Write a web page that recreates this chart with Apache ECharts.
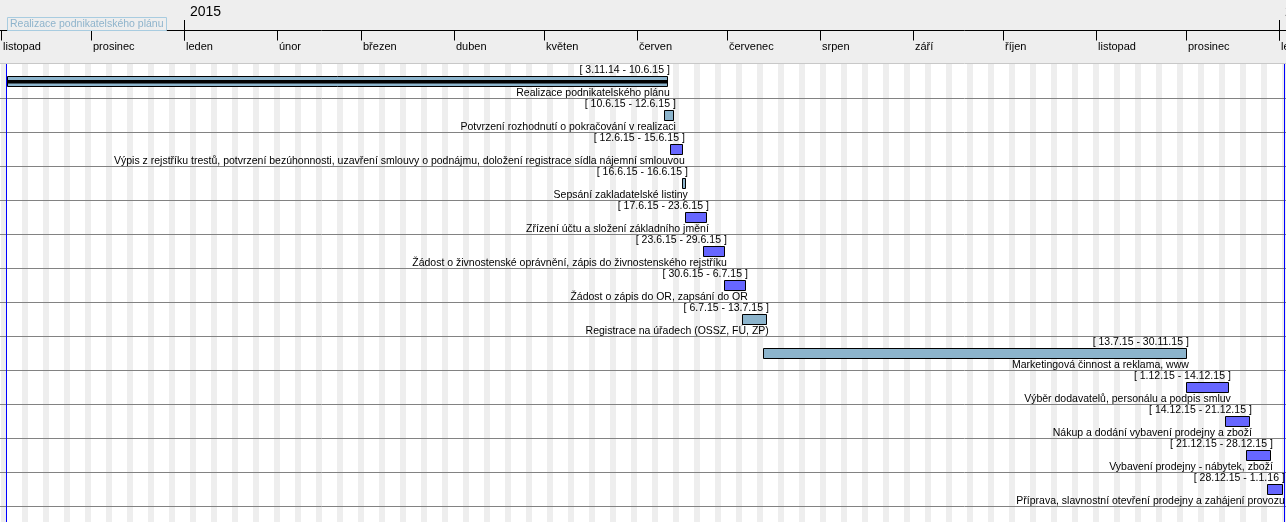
<!DOCTYPE html>
<html>
<head>
<meta charset="utf-8">
<script src="https://cdn.jsdelivr.net/npm/echarts@6/dist/echarts.min.js"></script>
<style>
  html, body { margin: 0; padding: 0; background: #fff; }
  #chart { width: 1286px; height: 522px; }
</style>
</head>
<body>
<div id="chart"></div>
<script>
// Gantt — project timeline (Czech labels)
var taskNames = [
  'Realizace podnikatelského plánu',
  'Potvrzení rozhodnutí o pokračování v realizaci',
  'Výpis z rejstříku trestů, potvrzení bezúhonnosti, uzavření smlouvy o podnájmu, doložení registrace sídla nájemní smlouvou',
  'Sepsání zakladatelské listiny',
  'Zřízení účtu a složení základního jmění',
  'Žádost o živnostenské oprávnění, zápis do živnostenského rejstříku',
  'Žádost o zápis do OR, zapsání do OR',
  'Registrace na úřadech (OSSZ, FÚ, ZP)',
  'Marketingová činnost a reklama, www',
  'Výběr dodavatelů, personálu a podpis smluv',
  'Nákup a dodání vybavení prodejny a zboží',
  'Vybavení prodejny - nábytek, zboží',
  'Příprava, slavnostní otevření prodejny a zahájení provozu'
];
var taskStarts = ['2014-11-03', '2015-06-10', '2015-06-12', '2015-06-16', '2015-06-17', '2015-06-23', '2015-06-30',
  '2015-07-06', '2015-07-13', '2015-12-01', '2015-12-14', '2015-12-21', '2015-12-28'];
var taskEnds = ['2015-06-10', '2015-06-12', '2015-06-15', '2015-06-16', '2015-06-23', '2015-06-29', '2015-07-06',
  '2015-07-13', '2015-11-30', '2015-12-14', '2015-12-21', '2015-12-28', '2016-01-01'];
// 0 = summary, 1 = plain task, 2 = other task
var taskKinds = [0, 1, 2, 1, 2, 2, 2, 1, 1, 2, 2, 2, 2];

var monthNames = ['listopad', 'prosinec', 'leden', 'únor', 'březen', 'duben', 'květen', 'červen',
  'červenec', 'srpen', 'září', 'říjen', 'listopad', 'prosinec', 'leden'];
var monthStarts = ['2014-11-01', '2014-12-01', '2015-01-01', '2015-02-01', '2015-03-01', '2015-04-01', '2015-05-01',
  '2015-06-01', '2015-07-01', '2015-08-01', '2015-09-01', '2015-10-01', '2015-11-01', '2015-12-01', '2016-01-01'];
var yearNames = ['2015', '2016'];
var yearStarts = ['2015-01-01', '2016-01-01'];
var markerTimes = ['2014-11-02T10:00', '2016-01-02T16:00'];

var DAY = 86400000;
function ms(s) {
  var p = s.split(/[-T:]/).map(Number);
  return Date.UTC(p[0], p[1] - 1, p[2], p[3] || 0, p[4] || 0);
}
function fmt(s) {
  var p = s.split('-').map(Number);
  return p[2] + '.' + p[1] + '.' + String(p[0]).slice(2);
}

var T0 = ms('2014-11-01');
var xMin = T0 - 1.3 / 3 * DAY;
var xMax = xMin + 1286 / 3 * DAY;

// weekend stripes (Saturdays)
var weekends = [];
for (var t = T0; t < xMax; t += 7 * DAY) weekends.push([t, t + 2 * DAY]);

var FONT = '"Liberation Sans", Arial, sans-serif';
var fills = ['#8cb4cc', '#8cb4cc', '#6666ff'];
var ROW = 34, TOP = 64, H = 522 - 64;

function snap(v) { return Math.round(v) + 0.5; }

var chart = echarts.init(document.getElementById('chart'), null, { renderer: 'canvas' });
chart.setOption({
  animation: false,
  useUTC: true,
  backgroundColor: '#ffffff',
  grid: { left: 0, right: 0, top: TOP, height: H },
  xAxis: { type: 'time', min: xMin, max: xMax, show: false },
  yAxis: { type: 'value', min: 0, max: H / ROW, inverse: true, show: false },
  graphic: [
    { type: 'rect', z: 0, silent: true, shape: { x: 0, y: 0, width: 1286, height: 63 }, style: { fill: '#eeeeee' } },
    { type: 'line', z: 0, silent: true, shape: { x1: 0, y1: 63.5, x2: 1286, y2: 63.5 }, style: { stroke: '#c8c8c8', lineWidth: 1 } },
    { type: 'line', z: 1, silent: true, shape: { x1: 0, y1: 30.5, x2: 1286, y2: 30.5 }, style: { stroke: '#000', lineWidth: 1 } },
    { type: 'rect', z: 100, silent: true, shape: { x: 7.5, y: 17.5, width: 159, height: 13 },
      style: { fill: '#eeeeee', stroke: '#a8cce0', lineWidth: 1 } },
    { type: 'text', z: 101, silent: true,
      style: { x: 10, y: 24.5, text: taskNames[0], fill: '#8fb4cc', font: '10.5px ' + FONT, verticalAlign: 'middle' } }
  ],
  series: [
    {
      // weekend stripes
      type: 'custom', z: 1, silent: true,
      data: weekends,
      encode: { x: [0, 1] },
      renderItem: function (params, api) {
        var a = api.coord([api.value(0), 0]);
        var b = api.coord([api.value(1), 0]);
        var cs = params.coordSys;
        return { type: 'rect', shape: { x: Math.round(a[0]), y: cs.y, width: Math.round(b[0]) - Math.round(a[0]), height: cs.height },
          style: { fill: '#eeeeee' } };
      }
    },
    {
      // row separators
      type: 'custom', z: 2, silent: true,
      data: taskNames.map(function (n, i) { return [xMin, i + 1]; }),
      encode: { x: 0, y: 1 },
      renderItem: function (params, api) {
        var p = api.coord([api.value(0), api.value(1)]);
        var cs = params.coordSys;
        return { type: 'line', shape: { x1: cs.x, y1: snap(p[1]), x2: cs.x + cs.width, y2: snap(p[1]) },
          style: { stroke: '#828282', lineWidth: 1 } };
      }
    },
    {
      // markers
      type: 'custom', z: 3, silent: true,
      data: markerTimes.map(function (m) { return [ms(m), 0]; }),
      encode: { x: 0, y: 1 },
      renderItem: function (params, api) {
        var p = api.coord([api.value(0), 0]);
        var cs = params.coordSys;
        var x = snap(p[0]);
        return { type: 'line', shape: { x1: x, y1: cs.y, x2: x, y2: cs.y + cs.height },
          style: { stroke: '#0000ff', lineWidth: 1 } };
      }
    },
    {
      // tasks
      type: 'custom', z: 4, silent: true,
      data: taskNames.map(function (n, i) { return [ms(taskStarts[i]), ms(taskEnds[i]) + DAY, i]; }),
      encode: { x: [0, 1], y: 2 },
      renderItem: function (params, api) {
        var i = params.dataIndex;
        var a = api.coord([api.value(0), api.value(2)]);
        var b = api.coord([api.value(1), api.value(2)]);
        var top = a[1];
        var x0 = snap(a[0]), x1 = snap(b[0]);
        var kids = [
          { type: 'rect', shape: { x: x0, y: top + 12.5, width: x1 - x0, height: 10 },
            style: { fill: fills[taskKinds[i]], stroke: '#000', lineWidth: 1 } }
        ];
        if (taskKinds[i] === 0) {
          kids.push({ type: 'rect', shape: { x: x0, y: top + 16, width: x1 - x0, height: 3.5 }, style: { fill: '#000' } });
        }
        kids.push({ type: 'text', style: { x: b[0] + 2.5, y: top + 6.5, text: '[ ' + fmt(taskStarts[i]) + ' - ' + fmt(taskEnds[i]) + ' ]',
          align: 'right', verticalAlign: 'middle', fill: '#000', font: '10.5px ' + FONT } });
        kids.push({ type: 'text', style: { x: b[0] + 2.5, y: top + 29.5, text: taskNames[i],
          align: 'right', verticalAlign: 'middle', fill: '#000', font: '10.5px ' + FONT } });
        return { type: 'group', children: kids };
      }
    },
    {
      // month header
      type: 'custom', z: 5, silent: true, clip: false,
      data: monthStarts.map(function (m) { return [ms(m), 0]; }),
      encode: { x: 0, y: 1 },
      renderItem: function (params, api) {
        var p = api.coord([api.value(0), 0]);
        var x = snap(p[0]);
        return { type: 'group', children: [
          { type: 'line', shape: { x1: x, y1: 30, x2: x, y2: 40.5 }, style: { stroke: '#000', lineWidth: 1 } },
          { type: 'text', style: { x: x + 1.5, y: 47, text: monthNames[params.dataIndex], verticalAlign: 'middle',
            fill: '#000', font: '11px ' + FONT } }
        ] };
      }
    },
    {
      // year header
      type: 'custom', z: 6, silent: true, clip: false,
      data: yearStarts.map(function (m) { return [ms(m), 0]; }),
      encode: { x: 0, y: 1 },
      renderItem: function (params, api) {
        var p = api.coord([api.value(0), 0]);
        var x = snap(p[0]);
        return { type: 'group', children: [
          { type: 'line', shape: { x1: x, y1: 20, x2: x, y2: 40.5 }, style: { stroke: '#000', lineWidth: 1 } },
          { type: 'text', style: { x: x + 5.5, y: 12.5, text: yearNames[params.dataIndex], verticalAlign: 'middle',
            fill: '#000', font: '14px ' + FONT } }
        ] };
      }
    }
  ]
});
window.addEventListener('resize', function () { chart.resize(); });
</script>
</body>
</html>
